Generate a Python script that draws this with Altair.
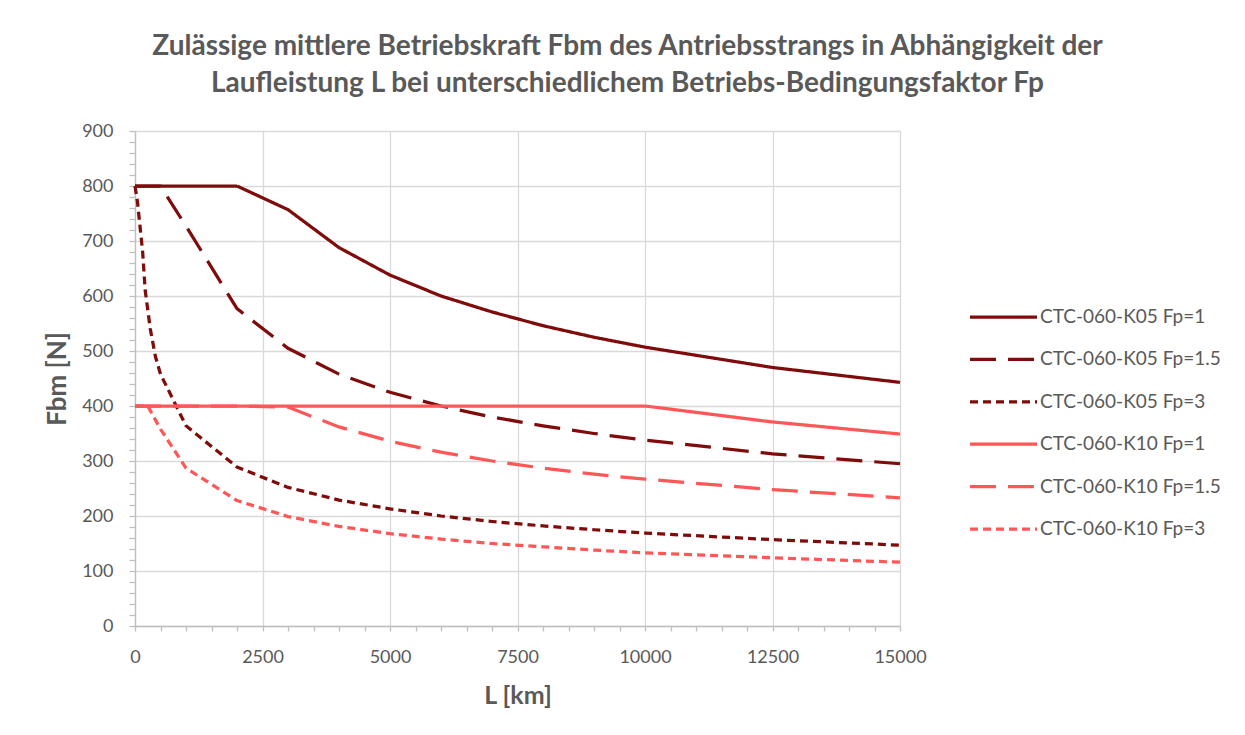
import altair as alt
import pandas as pd

series = [
    "CTC-060-K05 Fp=1",
    "CTC-060-K05 Fp=1.5",
    "CTC-060-K05 Fp=3",
    "CTC-060-K10 Fp=1",
    "CTC-060-K10 Fp=1.5",
    "CTC-060-K10 Fp=3",
]
colors = ["#7f0b0b", "#7f0b0b", "#7f0b0b", "#ff5757", "#ff5757", "#ff5757"]
dashes = [[1, 0], [26, 12], [8, 5], [1, 0], [26, 12], [8, 5]]

x_k05_1 = [0, 1000, 2000, 3000, 4000, 5000, 6000, 7000, 8000, 9000, 10000, 12500, 15000]
y_k05_1 = [800, 800, 800, 757, 688, 638, 600, 571, 546, 525, 507, 470, 443]

x_k05_15 = [0, 500, 1000, 2000, 3000, 4000, 5000, 6000, 7000, 8000, 9000, 10000, 12500, 15000]
y_k05_15 = [800, 800, 727, 577, 505, 458, 425, 400, 380, 364, 350, 338, 313, 295]

x_k05_3 = [0, 50, 100, 150, 200, 250, 300, 400, 500, 1000, 2000, 3000, 4000, 5000,
           6000, 7000, 8000, 9000, 10000, 12500, 15000]
y_k05_3 = [800, 770, 725, 680, 610, 575, 540, 490, 458, 364, 289, 252, 229, 213,
           200, 190, 182, 175, 169, 157, 147]

x_k10_1 = [0, 10000, 12500, 15000]
y_k10_1 = [400, 400, 371, 349]

x_k10_15 = [0, 1000, 2000, 3000, 4000, 5000, 6000, 7000, 8000, 9000, 10000, 12500, 15000]
y_k10_15 = [400, 400, 400, 398, 362, 336, 316, 300, 287, 276, 267, 248, 233]

x_k10_3 = [0, 250, 500, 1000, 2000, 3000, 4000, 5000, 6000, 7000, 8000, 9000, 10000, 12500, 15000]
y_k10_3 = [400, 400, 358, 287, 228, 199, 181, 168, 158, 150, 144, 138, 133, 124, 116]

xs = [x_k05_1, x_k05_15, x_k05_3, x_k10_1, x_k10_15, x_k10_3]
ys = [y_k05_1, y_k05_15, y_k05_3, y_k10_1, y_k10_15, y_k10_3]

frames = []
for name, xv, yv in zip(series, xs, ys):
    frames.append(pd.DataFrame({"L": xv, "F": yv, "series": name}))
df = pd.concat(frames, ignore_index=True)

TXT = "#595959"
FONT = "Lato"

legend = alt.Legend(
    orient="none", legendX=833, legendY=176, title=None,
    symbolType="stroke", symbolSize=4489, symbolStrokeWidth=3.25,
    clipHeight=20, rowPadding=22.4, labelFont=FONT, labelFontSize=19,
    labelColor=TXT, labelOffset=1, padding=0, labelLimit=300,
)

x_axis = alt.Axis(
    values=list(range(0, 15001, 500)), format="d",
    labelExpr="datum.value % 2500 === 0 ? datum.label : ''",
    labelOverlap=False, labelFlush=False, labelFont=FONT, labelFontSize=18, labelColor=TXT,
    labelPadding=17, tickSize=5, tickColor="#bfbfbf", domainColor="#bfbfbf",
    domainWidth=1.3, tickWidth=1.3,
    grid=True, gridColor="#d9d9d9", gridWidth=1.3,
    gridOpacity={"condition": {"test": "datum.value % 2500 === 0", "value": 1}, "value": 0},
    title="L [km]", titleFont=FONT, titleFontSize=25, titleFontWeight="bold",
    titleColor=TXT, titleX=382.5, titleY=69, titleBaseline="middle", titleAlign="center",
)

y_axis = alt.Axis(
    values=list(range(0, 901, 20)), format="d",
    labelExpr="datum.value % 100 === 0 ? datum.label : ''",
    labelOverlap=False, labelFont=FONT, labelFontSize=18, labelColor=TXT,
    labelPadding=16, tickSize=6, tickColor="#bfbfbf", domainColor="#bfbfbf",
    domainWidth=1.3, tickWidth=1.3,
    grid=True, gridColor="#d9d9d9", gridWidth=1.3,
    gridOpacity={"condition": {"test": "datum.value % 100 === 0", "value": 1}, "value": 0},
    title="Fbm [N]", titleFont=FONT, titleFontSize=26, titleFontWeight="bold",
    titleColor=TXT, titleX=-78, titleY=247.5, titleAngle=270,
    titleBaseline="middle", titleAlign="center",
)

chart = (
    alt.Chart(df)
    .mark_line(strokeWidth=3.25, strokeCap="butt")
    .encode(
        x=alt.X("L:Q", scale=alt.Scale(domain=[0, 15000], nice=False), axis=x_axis),
        y=alt.Y("F:Q", scale=alt.Scale(domain=[0, 900], nice=False), axis=y_axis),
        color=alt.Color("series:N", sort=series,
                        scale=alt.Scale(domain=series, range=colors), legend=legend),
        strokeDash=alt.StrokeDash("series:N", sort=series,
                                  scale=alt.Scale(domain=series, range=dashes), legend=legend),
    )
    .properties(
        width=765, height=495,
        title=alt.Title(
            text=["Zulässige mittlere Betriebskraft Fbm des Antriebsstrangs in Abhängigkeit der",
                  "Laufleistung L bei unterschiedlichem Betriebs-Bedingungsfaktor Fp"],
            font=FONT, fontSize=28, fontWeight="bold", color=TXT, lineHeight=37,
            anchor="middle", dx=110, offset=24,
        ),
        autosize=alt.AutoSizeParams(type="none"),
        padding={"left": 127, "top": 123, "right": 337, "bottom": 90},
    )
    .configure_view(stroke=None)
)

chart.save("out.html", embed_options={"renderer": "svg", "actions": False})
